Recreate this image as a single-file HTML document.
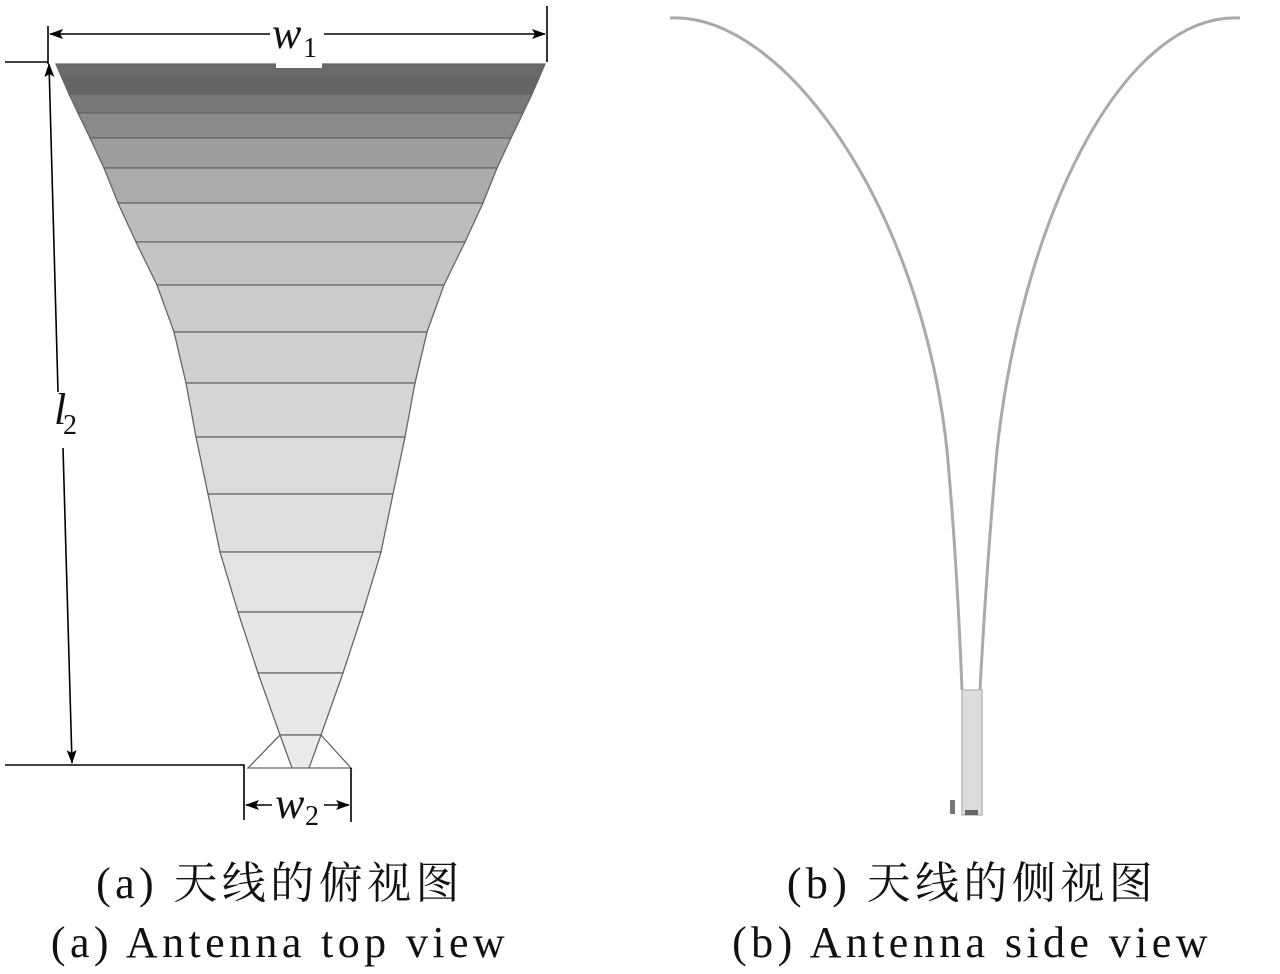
<!DOCTYPE html>
<html><head><meta charset="utf-8"><style>
body{margin:0;background:#fff;width:1280px;height:974px;overflow:hidden}
svg{display:block}
text{font-family:"Liberation Serif","Noto Serif CJK SC",serif;fill:#111}
.cap{font-size:44px;letter-spacing:4.4px}
</style></head><body>
<svg width="1280" height="974" viewBox="0 0 1280 974">
<defs>
<marker id="a" markerWidth="14" markerHeight="10" refX="13" refY="5" orient="auto" markerUnits="userSpaceOnUse"><path d="M0,0 L14,5 L0,10 L3,5 Z" fill="#000"/></marker>
</defs>
<g stroke="#666" stroke-width="1.3">
<polygon points="56,64 545,64 539,78 62,78" fill="#6a6a6a"/>
<polygon points="62,78 539,78 532,94 69,94" fill="#656565"/>
<polygon points="69,94 532,94 523,113 78,113" fill="#787878"/>
<polygon points="78,113 523,113 511,138 90,138" fill="#8b8b8b"/>
<polygon points="90,138 511,138 497,168 104,168" fill="#9e9e9e"/>
<polygon points="104,168 497,168 483,203 118,203" fill="#ababab"/>
<polygon points="118,203 483,203 465,242 136,242" fill="#bcbcbc"/>
<polygon points="136,242 465,242 444,285 157,285" fill="#c4c4c4"/>
<polygon points="157,285 444,285 427,332 174,332" fill="#cbcbcb"/>
<polygon points="174,332 427,332 415,383 186,383" fill="#d0d0d0"/>
<polygon points="186,383 415,383 405,437 196,437" fill="#d6d6d6"/>
<polygon points="196,437 405,437 393,494 208,494" fill="#dbdbdb"/>
<polygon points="208,494 393,494 381,552 220,552" fill="#dfdfdf"/>
<polygon points="220,552 381,552 363,612 238,612" fill="#e3e3e3"/>
<polygon points="238,612 363,612 343,673 258,673" fill="#e6e6e6"/>
<polygon points="258,673 343,673 321,735 280,735" fill="#e8e8e8"/>
<polygon points="280,735 321,735 309,768 292,768" fill="#ebebeb"/>
<polyline points="280,735 248,768 292,768" fill="none"/>
<polyline points="321,735 351,768 309,768" fill="none"/>
</g>
<rect x="276" y="60" width="46" height="8" fill="#fff"/>
<g stroke="#000" stroke-width="1.6" fill="none">
<line x1="48" y1="26" x2="48" y2="64"/>
<line x1="547" y1="6" x2="547" y2="62"/>
<line x1="270" y1="34" x2="50" y2="34" marker-end="url(#a)"/>
<line x1="324" y1="34" x2="545" y2="34" marker-end="url(#a)"/>
<line x1="5" y1="62" x2="48" y2="62"/>
<line x1="58" y1="392" x2="49" y2="64" marker-end="url(#a)"/>
<line x1="63" y1="448" x2="72" y2="763" marker-end="url(#a)"/>
<polyline points="5,765 244,765 244,820"/>
<line x1="351" y1="768" x2="351" y2="822"/>
<line x1="272" y1="805" x2="246" y2="805" marker-end="url(#a)"/>
<line x1="324" y1="805" x2="349" y2="805" marker-end="url(#a)"/>
</g>
<text x="272" y="48" font-size="44" font-style="italic">w</text><text x="303" y="57" font-size="28">1</text>
<text x="54" y="424" font-size="44" font-style="italic">l</text><text x="63" y="434" font-size="28">2</text>
<text x="275" y="818" font-size="44" font-style="italic">w</text><text x="305" y="825" font-size="28">2</text>
<g fill="none" stroke="#aaa" stroke-width="3">
<path d="M670,18 C780,12 920,200 947,450 Q957,560 962,690"/>
<path d="M1240,18 C1130,12 1025,200 997,450 Q987,560 980,690"/>
</g>
<rect x="962" y="690" width="20" height="125" fill="#dcdcdc" stroke="#bbb" stroke-width="1.5"/>
<rect x="950" y="800" width="5" height="14" fill="#777"/>
<rect x="965" y="810" width="13" height="5" fill="#666"/>
<text class="cap" x="280" y="898" text-anchor="middle">(a) 天线的俯视图</text>
<text class="cap" x="280" y="957" text-anchor="middle">(a) Antenna top view</text>
<text class="cap" x="972" y="898" text-anchor="middle">(b) 天线的侧视图</text>
<text class="cap" x="972" y="957" text-anchor="middle">(b) Antenna side view</text>
</svg>
</body></html>
